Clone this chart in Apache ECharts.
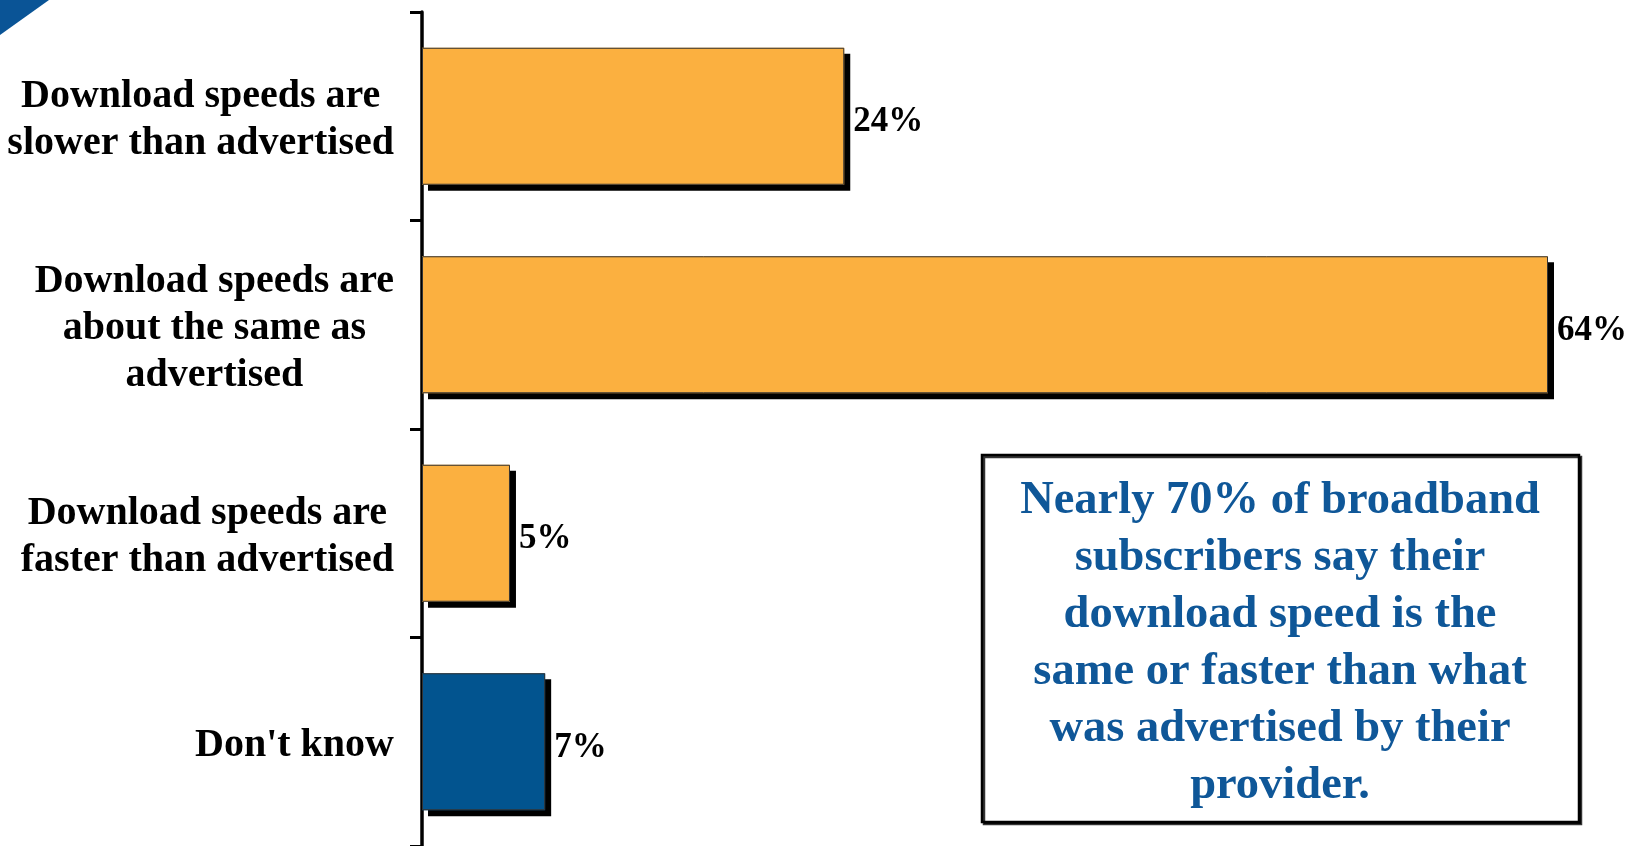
<!DOCTYPE html>
<html>
<head>
<meta charset="utf-8">
<script src="https://cdn.jsdelivr.net/npm/echarts@6/dist/echarts.min.js"></script>
<style>
  html, body { margin: 0; padding: 0; background: #ffffff; }
  #chart { width: 1635px; height: 846px; }
</style>
</head>
<body>
<div id="chart"></div>
<script>
// Survey answers, top to bottom
const categories = [
  'Download speeds are\nslower than advertised',
  'Download speeds are\nabout the same as\nadvertised',
  'Download speeds are\nfaster than advertised',
  "Don't know"
];
const percentages = [24, 64, 5, 7];
const barColors = ['#FBB040', '#FBB040', '#FBB040', '#02548F'];
const calloutText = 'Nearly 70% of broadband\nsubscribers say their\ndownload speed is the\nsame or faster than what\nwas advertised by their\nprovider.';

const SERIF = '"Liberation Serif", "DejaVu Serif", serif';
const BLUE = '#0F5798';

const chart = echarts.init(document.getElementById('chart'), null, { renderer: 'canvas' });

chart.setOption({
  backgroundColor: '#ffffff',
  animation: false,
  grid: { left: 422, right: 87, top: 12, bottom: 0, containLabel: false },
  xAxis: {
    type: 'value',
    min: 0,
    max: 64,
    show: false
  },
  yAxis: {
    type: 'category',
    inverse: true,
    data: categories,
    axisLine: { show: true, lineStyle: { color: '#000', width: 3.5 } },
    axisTick: { show: true, length: 12, lineStyle: { color: '#000', width: 3 } },
    axisLabel: {
      margin: 28,
      align: 'right',
      padding: [8, 0, 0, 0],
      formatter: v => v.split('\n').map(line => '{c|' + line + '}').join('\n'),
      rich: {
        c: {
          align: 'center',
          fontFamily: SERIF,
          fontWeight: 'bold',
          fontSize: 40,
          lineHeight: 47,
          color: '#000'
        }
      }
    },
    splitLine: { show: false }
  },
  series: [
    {
      // filled bars with their drop shadow
      type: 'bar',
      barWidth: 137,
      data: percentages.map((v, i) => ({
        value: v,
        itemStyle: { color: barColors[i] }
      })),
      itemStyle: {
        borderWidth: 0,
        shadowColor: '#000',
        shadowBlur: 0,
        shadowOffsetX: 6,
        shadowOffsetY: 6
      },
      label: {
        show: true,
        position: 'right',
        distance: 9,
        offset: [0, 6],
        formatter: p => p.value + '%',
        fontFamily: SERIF,
        fontWeight: 'bold',
        fontSize: 35,
        color: '#000'
      }
    },
    {
      // thin outline over the same bars
      type: 'bar',
      barWidth: 137,
      barGap: '-100%',
      silent: true,
      z: 3,
      data: percentages,
      itemStyle: {
        color: 'transparent',
        borderColor: '#333',
        borderWidth: 1
      },
      label: { show: false }
    }
  ],
  graphic: [
    {
      type: 'polygon',
      shape: { points: [[0, 0], [49, 0], [0, 35]] },
      style: { fill: '#0A5496' }
    },
    {
      type: 'rect',
      shape: { x: 982, y: 455, width: 597, height: 367 },
      style: {
        fill: '#fff',
        stroke: '#000',
        lineWidth: 2.5,
        shadowColor: 'rgba(0,0,0,0.8)',
        shadowOffsetX: 2,
        shadowOffsetY: 2,
        shadowBlur: 0
      }
    },
    {
      type: 'text',
      x: 1280,
      y: 643,
      style: {
        text: calloutText,
        align: 'center',
        verticalAlign: 'middle',
        fontFamily: SERIF,
        fontWeight: 'bold',
        fontSize: 46.5,
        lineHeight: 57,
        fill: BLUE
      }
    }
  ]
});
</script>
</body>
</html>
